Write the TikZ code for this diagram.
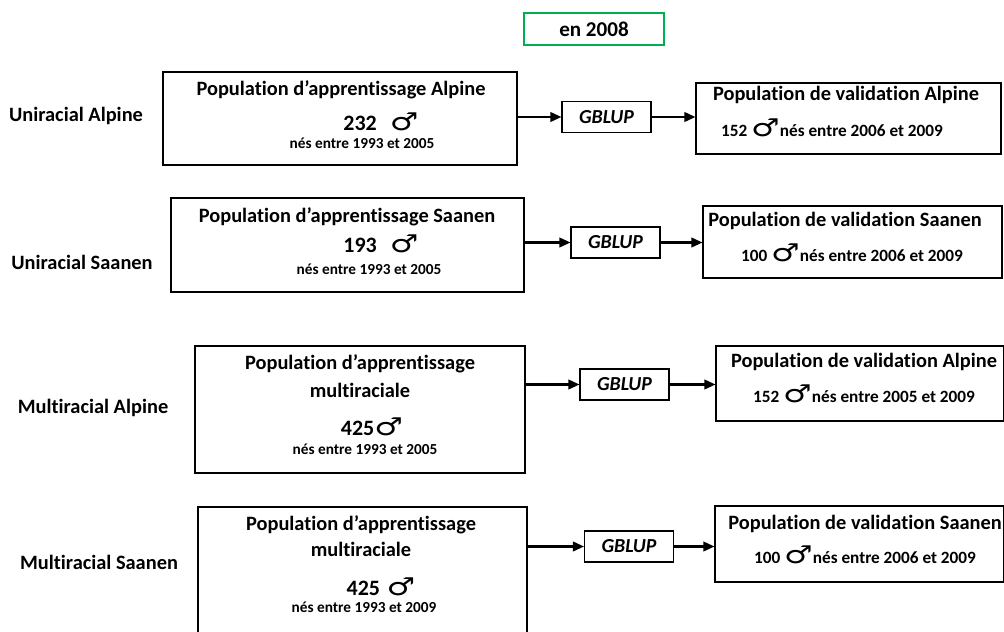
\documentclass[tikz,border=0pt]{standalone}
\usepackage{graphicx}
\usepackage{fontspec}
\setmainfont{Carlito}[Ligatures=NoCommon]
\newfontfamily\marsfont{DejaVu Sans}
\usepackage{tikz}
\usetikzlibrary{arrows.meta,fit}
\definecolor{yearframe}{HTML}{00B050}
\newcommand{\mars}{\smash{\marsfont\mdseries\fontsize{14}{14}\selectfont\scalebox{1.3}[1]{\char"2642}}}

\begin{document}
\begin{tikzpicture}[x=0.02cm,y=-0.02cm,
  box/.style={draw,line width=0.6pt,inner sep=0pt},
  gbox/.style={draw,line width=0.6pt,minimum width=1.78cm,minimum height=0.62cm,
    inner sep=0pt,font=\bfseries\itshape\fontsize{11.3}{13}\selectfont},
  title/.style={font=\bfseries\fontsize{11.6}{14}\selectfont},
  count/.style={font=\bfseries\fontsize{12.5}{14}\selectfont},
  small/.style={font=\bfseries\fontsize{8.7}{10}\selectfont},
  vsmall/.style={font=\bfseries\fontsize{9.8}{11}\selectfont},
  rowlabel/.style={font=\bfseries\fontsize{11.6}{14}\selectfont},
  flow/.style={-{Triangle[length=2.2mm,width=1.9mm]},line width=1.2pt}]

  % page
  \useasboundingbox (0,0) rectangle (1004,632);
  \clip (0,0) rectangle (1004,632);

  % year
  \node[draw=yearframe,line width=1.5pt,minimum width=2.8cm,minimum height=0.64cm,
    font=\bfseries\fontsize{12}{14}\selectfont] (year) at (594,29) {en 2008};

  % row labels
  \node[rowlabel] (r1) at (76,116) {Uniracial Alpine};
  \node[rowlabel] (r2) at (82,262) {Uniracial Saanen};
  \node[rowlabel] (r3) at (93,408) {Multiracial Alpine};
  \node[rowlabel] (r4) at (99,562) {Multiracial Saanen};

  % learning populations
  \node[box,fit={(163,72) (517,165)}] (l1) {};
  \node[title] (l1a) at (341,90) {Population d’apprentissage Alpine};
  \node[count,anchor=base] (l1b) at (381,130) {232\hspace{0.6em}\mars};
  \node[small] (l1c) at (362,143) {nés entre 1993 et 2005};

  \node[box,fit={(171,198) (524,292)}] (l2) {};
  \node[title] (l2a) at (347,217) {Population d’apprentissage Saanen};
  \node[count,anchor=base] (l2b) at (381,252) {193\hspace{0.6em}\mars};
  \node[small] (l2c) at (369,269) {nés entre 1993 et 2005};

  \node[box,fit={(195,346) (525,473)}] (l3) {};
  \node[title] (l3a) at (360,364) {Population d’apprentissage};
  \node[title] (l3b) at (360,390) {multiraciale};
  \node[count,anchor=base] (l3c) at (372,435) {425\mars};
  \node[small] (l3d) at (365,449) {nés entre 1993 et 2005};

  \node[box,fit={(198,507) (527,645)}] (l4) {};
  \node[title] (l4a) at (361,525) {Population d’apprentissage};
  \node[title] (l4b) at (361,549) {multiraciale};
  \node[count,anchor=base] (l4c) at (381,595) {425\hspace{0.3em}\mars};
  \node[small] (l4d) at (364,607) {nés entre 1993 et 2009};

  % GBLUP
  \node[gbox] (g1) at (606.5,117) {GBLUP};
  \node[gbox] (g2) at (615.5,242.5) {GBLUP};
  \node[gbox] (g3) at (624.5,384.5) {GBLUP};
  \node[gbox] (g4) at (629,546.5) {GBLUP};

  % validation populations
  \node[box,fit={(696,83) (1001,154)}] (v1) {};
  \node[title] (v1a) at (846,95) {Population de validation Alpine};
  \node[vsmall,anchor=base] (v1b) at (832,136) {152 \mars nés entre 2006 et 2009};

  \node[box,fit={(703,206) (1002,278)}] (v2) {};
  \node[title] (v2a) at (845,221) {Population de validation Saanen};
  \node[vsmall,anchor=base] (v2b) at (852,261) {100 \mars nés entre 2006 et 2009};

  \node[box,fit={(716,346) (1004,421)}] (v3) {};
  \node[title] (v3a) at (864,362) {Population de validation Alpine};
  \node[vsmall,anchor=base] (v3b) at (864,402) {152 \mars nés entre 2005 et 2009};

  \node[box,fit={(715,506) (1004,582)}] (v4) {};
  \node[title] (v4a) at (865,524) {Population de validation Saanen};
  \node[vsmall,anchor=base] (v4b) at (865,563) {100 \mars nés entre 2006 et 2009};

  % arrows
  \foreach \i in {1,...,4} {
    \draw[flow] (g\i.west -| l\i.east) -- (g\i.west);
    \draw[flow] (g\i.east) -- (g\i.east -| v\i.west);
  }

\end{tikzpicture}
\end{document}
